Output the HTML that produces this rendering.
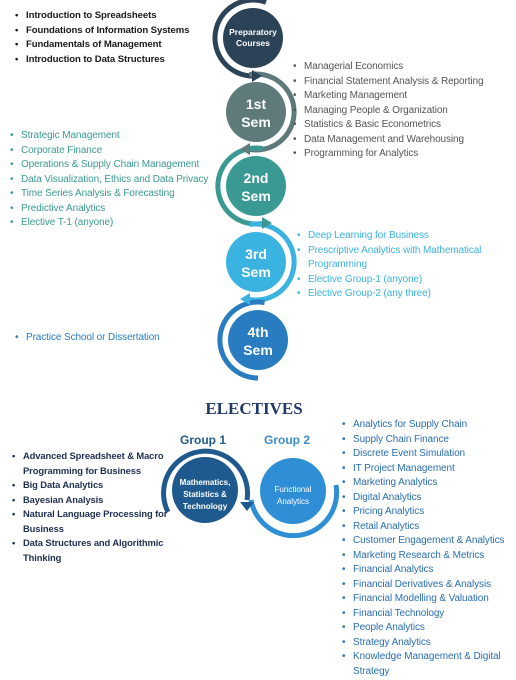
<!DOCTYPE html>
<html><head><meta charset="utf-8"><style>
body{margin:0;width:516px;height:680px;background:#fff;position:relative;overflow:hidden;font-family:"Liberation Sans",sans-serif}
.l{position:absolute;margin:0;padding:0;list-style:none;font-size:10px;line-height:14.5px;letter-spacing:-0.1px;white-space:nowrap}
.l li{position:relative;padding-left:11px}
.l li:before{content:"•";position:absolute;left:0;top:0}
svg{position:absolute;left:0;top:0}
</style></head><body>
<svg width="516" height="680" viewBox="0 0 516 680">
<g fill="none" stroke-width="5">
<path d="M266 2.3 A38 38 0 1 0 253 76" stroke="#2b4257"/>
<path d="M249.4 74.6 A38 38 0 1 1 249.4 149.4" stroke="#5f7a7a"/>
<path d="M262.6 148.6 A38 38 0 1 0 262.6 223.4" stroke="#3a9a93"/>
<path d="M249.4 224.6 A38 38 0 1 1 249.4 299.4" stroke="#3bb3e0"/>
<path d="M264.6 302.6 A38 38 0 1 0 258 378" stroke="#2a7cc0"/>
<path d="M168 512 A42 42 0 1 1 247 500" stroke="#1f5a8f"/>
<path d="M251 500 A43 43 0 0 0 336 485" stroke="#2f8fd6"/>
</g>
<g>
<polygon points="252,70 262,76 252,82" fill="#2b4257"/>
<polygon points="250,143 240,149 250,155" fill="#5f7a7a"/>
<polygon points="262,217 272,223 262,229" fill="#3a9a93"/>
<polygon points="250,293 240,299 250,305" fill="#3bb3e0"/>
<polygon points="240,502 254,502 247,511" fill="#1f5a8f"/>
</g>
<circle cx="253" cy="38" r="30" fill="#2b4257"/>
<circle cx="256" cy="112" r="30" fill="#5f7a7a"/>
<circle cx="256" cy="186" r="30" fill="#3a9a93"/>
<circle cx="256" cy="262" r="30" fill="#3bb3e0"/>
<circle cx="258" cy="340" r="30" fill="#2a7cc0"/>
<circle cx="205" cy="490" r="33" fill="#1f5a8f"/>
<circle cx="293" cy="491" r="33" fill="#2f8fd6"/>
<g fill="#fff" font-family="Liberation Sans" font-weight="bold" text-anchor="middle">
<text x="253" y="35" font-size="8.5">Preparatory</text><text x="253" y="46" font-size="8.5">Courses</text>
<text x="256" y="109" font-size="14">1st</text><text x="256" y="127" font-size="14">Sem</text>
<text x="256" y="183" font-size="14">2nd</text><text x="256" y="201" font-size="14">Sem</text>
<text x="256" y="259" font-size="14">3rd</text><text x="256" y="277" font-size="14">Sem</text>
<text x="258" y="337" font-size="14">4th</text><text x="258" y="355" font-size="14">Sem</text>
<text x="205" y="485" font-size="8">Mathematics,</text><text x="205" y="497" font-size="8">Statistics &amp;</text><text x="205" y="509" font-size="8">Technology</text>
<text x="293" y="492" font-size="8" font-weight="normal">Functional</text><text x="293" y="504" font-size="8" font-weight="normal">Analytics</text>
</g>
<text x="254" y="414" text-anchor="middle" font-family="Liberation Serif" font-weight="bold" font-size="17" fill="#1f3a6b">ELECTIVES</text>
<text x="203" y="444" text-anchor="middle" font-weight="bold" font-size="12" fill="#1f5a8f" font-family="Liberation Sans">Group 1</text>
<text x="287" y="444" text-anchor="middle" font-weight="bold" font-size="12" fill="#3a8fd0" font-family="Liberation Sans">Group 2</text>
</svg>
<ul class="l" style="left:15px;top:9px;color:#1a1a1a;font-weight:bold;font-size:9.6px">
<li>Introduction to Spreadsheets</li><li>Foundations of Information Systems</li><li>Fundamentals of Management</li><li>Introduction to Data Structures</li></ul>
<ul class="l" style="left:293px;top:60px;color:#555">
<li>Managerial Economics</li><li>Financial Statement Analysis &amp; Reporting</li><li>Marketing Management</li><li>Managing People &amp; Organization</li><li>Statistics &amp; Basic Econometrics</li><li>Data Management and Warehousing</li><li>Programming for Analytics</li></ul>
<ul class="l" style="left:10px;top:129px;color:#3a9a93">
<li>Strategic Management</li><li>Corporate Finance</li><li>Operations &amp; Supply Chain Management</li><li>Data Visualization, Ethics and Data Privacy</li><li>Time Series Analysis &amp; Forecasting</li><li>Predictive Analytics</li><li>Elective T-1 (anyone)</li></ul>
<ul class="l" style="left:297px;top:229px;color:#3bb3e0">
<li>Deep Learning for Business</li><li>Prescriptive Analytics with Mathematical<br>Programming</li><li>Elective Group-1 (anyone)</li><li>Elective Group-2 (any three)</li></ul>
<ul class="l" style="left:15px;top:331px;color:#2a7cc0">
<li>Practice School or Dissertation</li></ul>
<ul class="l" style="left:12px;top:449px;color:#1f2f4f;font-weight:bold;font-size:9.4px">
<li>Advanced Spreadsheet &amp; Macro<br>Programming for Business</li><li>Big Data Analytics</li><li>Bayesian Analysis</li><li>Natural Language Processing for<br>Business</li><li>Data Structures and Algorithmic<br>Thinking</li></ul>
<ul class="l" style="left:342px;top:418px;color:#2a6fb0">
<li>Analytics for Supply Chain</li><li>Supply Chain Finance</li><li>Discrete Event Simulation</li><li>IT Project Management</li><li>Marketing Analytics</li><li>Digital Analytics</li><li>Pricing Analytics</li><li>Retail Analytics</li><li>Customer Engagement &amp; Analytics</li><li>Marketing Research &amp; Metrics</li><li>Financial Analytics</li><li>Financial Derivatives &amp; Analysis</li><li>Financial Modelling &amp; Valuation</li><li>Financial Technology</li><li>People Analytics</li><li>Strategy Analytics</li><li>Knowledge Management &amp; Digital<br>Strategy</li></ul>
</body></html>
